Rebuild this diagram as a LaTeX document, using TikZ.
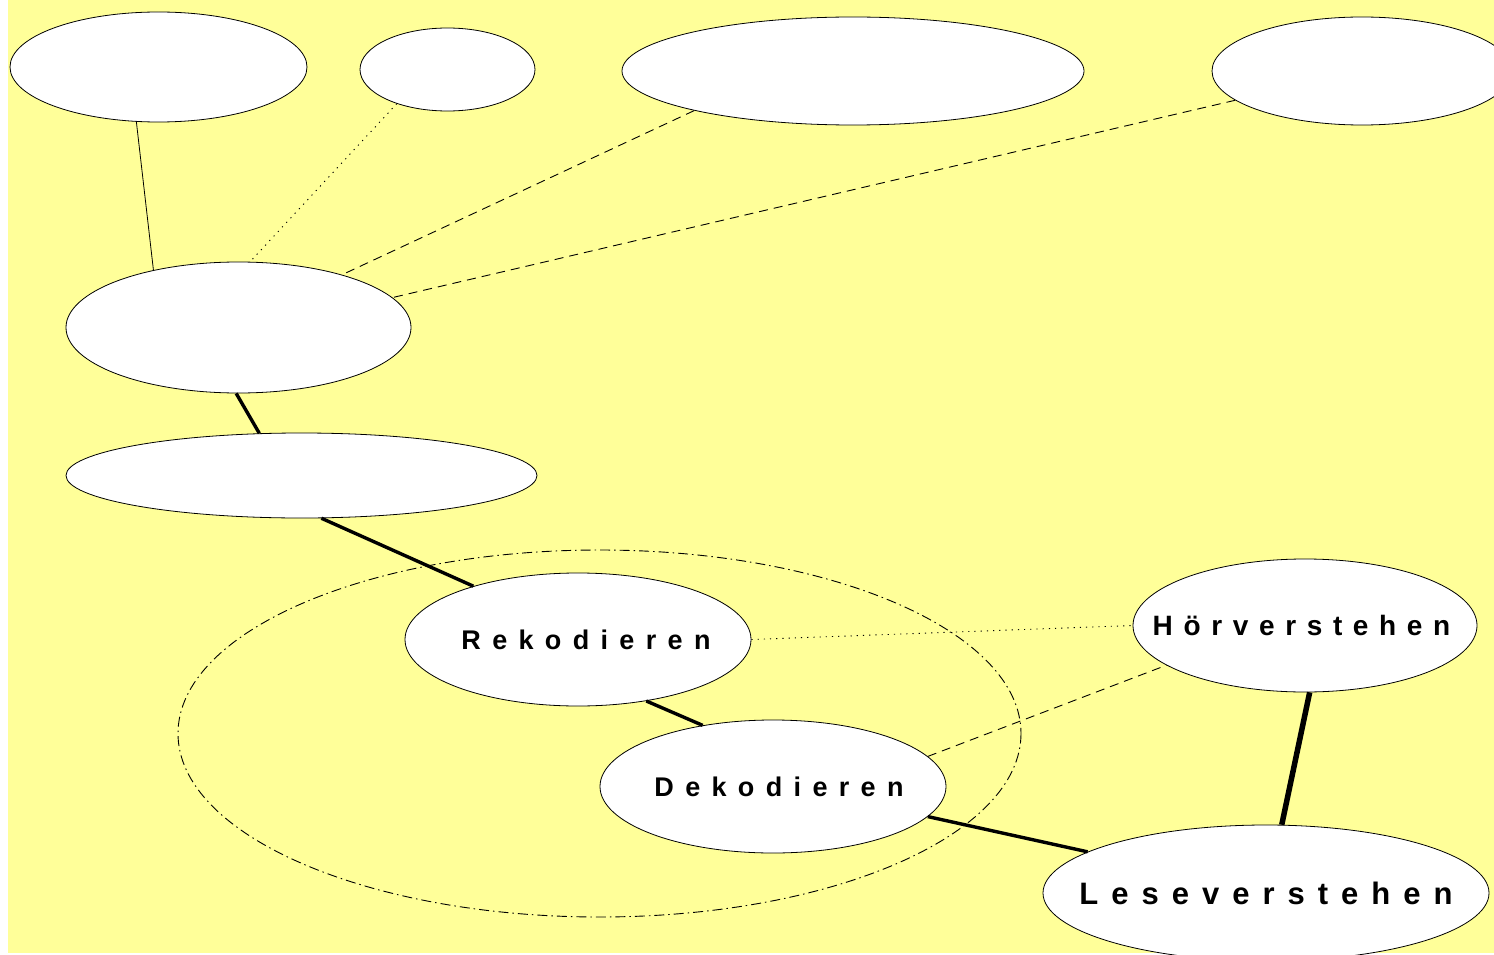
\documentclass[tikz,border=0pt]{standalone}
\usepackage{fontspec}
\setmainfont{Liberation Sans}
\newfontfamily\lab{Liberation Sans}[LetterSpace=42]
\newfontfamily\labn{Liberation Sans}[LetterSpace=38]
\usetikzlibrary{shapes.geometric}
\definecolor{bgyellow}{HTML}{FFFF99}
\tikzset{
  bub/.style={ellipse, draw, fill=white, line width=0.8pt, inner sep=0pt},
  thinline/.style={line width=0.8pt},
  dotline/.style={line width=0.9pt, dash pattern=on 1.2pt off 5pt},
  dashline/.style={line width=0.9pt, dash pattern=on 9pt off 6pt},
  thickline/.style={line width=3.4pt},
  heavyline/.style={line width=5.5pt},
  ringline/.style={line width=0.9pt, dash pattern=on 10pt off 4pt on 1.5pt off 4pt},
  lbl/.style={font=\lab\bfseries},
  lbln/.style={font=\labn\bfseries}
}
\newcommand{\lbltxt}[3]{\makebox[0pt][c]{\hspace*{#1}\fontsize{#2}{#2}\selectfont #3}}
\begin{document}
\begin{tikzpicture}[x=1pt,y=-1pt]
\useasboundingbox (0,0) rectangle (1494,955);
\clip (0,0) rectangle (1494,955);
\fill[white] (0,0) rectangle (1494,955);
\fill[bgyellow] (8,0) rectangle (1494,953);

% dash-dot ring
\draw[ringline] (599.5,733.5) ellipse [x radius=421.5, y radius=183.5];

% top row
\node[bub, minimum width=297pt, minimum height=110pt] (e1) at (158.5,67) {};
\node[bub, minimum width=175pt, minimum height=83pt] (e2) at (447.5,69.5) {};
\node[bub, minimum width=462pt, minimum height=108pt] (e3) at (853,71) {};
\node[bub, minimum width=300pt, minimum height=108pt] (e4) at (1362,71) {};

% middle
\node[bub, minimum width=345pt, minimum height=131pt] (e5) at (238.5,327.5) {};
\node[bub, minimum width=471pt, minimum height=85pt] (e6) at (301.5,475.5) {};

% labelled
\node[bub, lbl, minimum width=346pt, minimum height=133pt] (rek) at (578,639.5) {\lbltxt{16pt}{27pt}{Rekodieren}};
\node[bub, lbl, minimum width=346pt, minimum height=133pt] (dek) at (773,786.5) {\lbltxt{12pt}{27pt}{Dekodieren}};
\node[bub, lbln, minimum width=344pt, minimum height=133pt] (hor) at (1305,625.5) {\lbltxt{-7pt}{28pt}{Hörverstehen}};
\node[bub, lbl, minimum width=446pt, minimum height=136pt] (les) at (1266,893) {\lbltxt{0pt}{31pt}{Leseverstehen}};

% connectors
\draw[thinline] (e1.248) -- (e5.146);
\draw[dotline] (e2.214) -- (e5.80);
\draw[dashline] (e3.194) -- (e5.27);
\draw[dashline] (e4.193) -- (e5.11);
\draw[thickline] (e5.268) -- (e6.135);
\draw[thickline] (e6.295) -- (rek.153);
\draw[thickline] (rek.318) -- (dek.139);
\draw[dotline] (rek.0) -- (hor.180);
\draw[dashline] (dek.11) -- (hor.196);
\draw[thickline] (dek.349) -- (les.167);
\draw[heavyline] (hor.274.3) -- (les.77.6);
\end{tikzpicture}
\end{document}
